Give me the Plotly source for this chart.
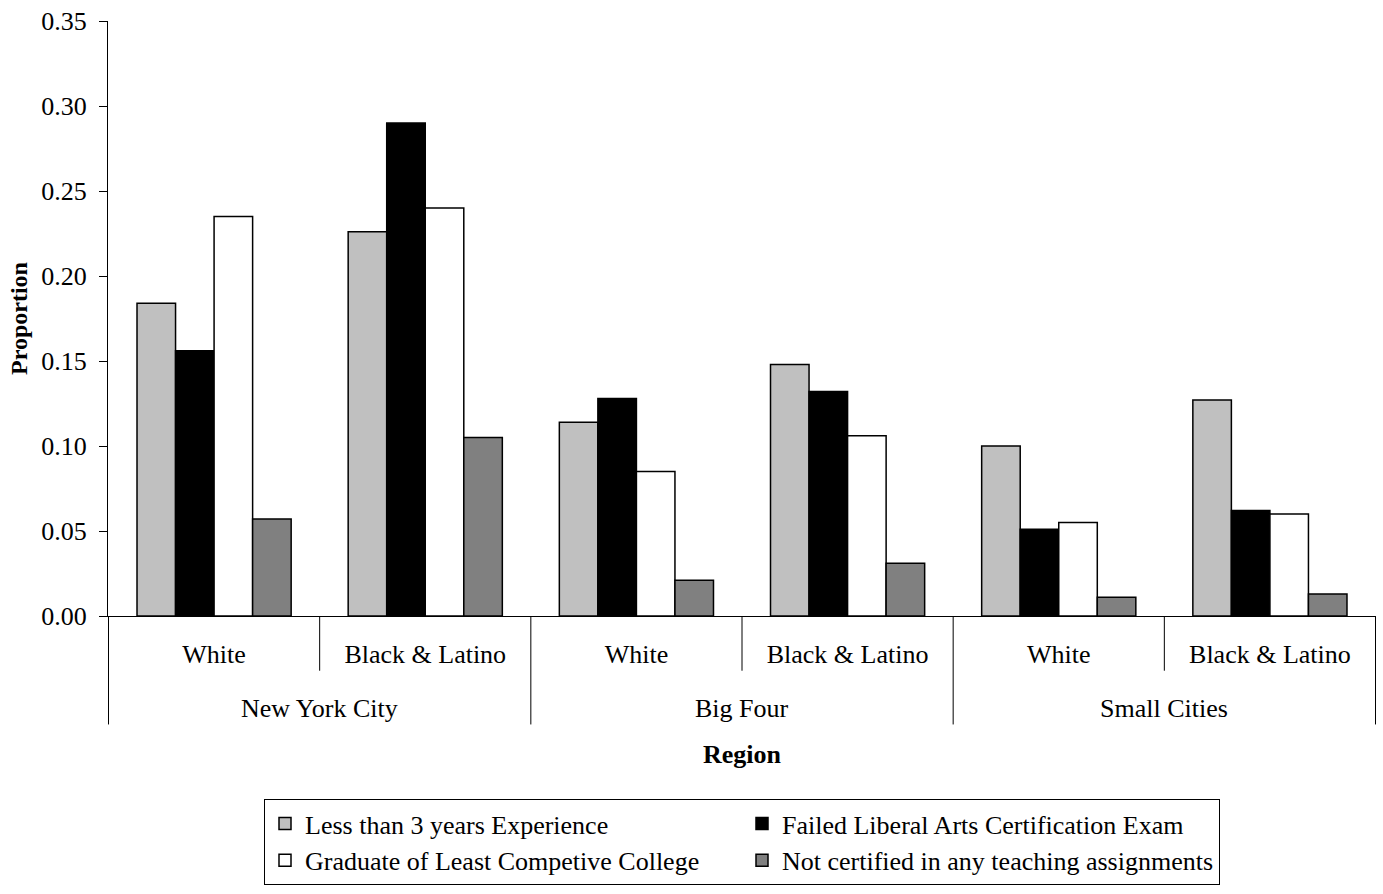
import plotly.graph_objects as go

# Region / group categories
regions = ["New York City", "Big Four", "Small Cities"]
groups = ["White", "Black & Latino"]
region_of_bar = ["New York City", "New York City", "Big Four", "Big Four", "Small Cities", "Small Cities"]
group_of_bar = ["White", "Black & Latino", "White", "Black & Latino", "White", "Black & Latino"]
keys = [f"{r} | {g}" for r, g in zip(region_of_bar, group_of_bar)]

# Proportions per indicator
less_than_3_years = [0.184, 0.226, 0.114, 0.148, 0.100, 0.127]
failed_las_exam = [0.156, 0.290, 0.128, 0.132, 0.051, 0.062]
least_competitive_college = [0.235, 0.240, 0.085, 0.106, 0.055, 0.060]
not_certified = [0.057, 0.105, 0.021, 0.031, 0.011, 0.013]

series = [
    ("Less than 3 years Experience", less_than_3_years, "#C0C0C0"),
    ("Failed Liberal Arts Certification Exam", failed_las_exam, "#000000"),
    ("Graduate of Least Competive College", least_competitive_college, "#FFFFFF"),
    ("Not certified in any teaching assignments", not_certified, "#808080"),
]

FONT = "Liberation Serif, Times New Roman, serif"
PLOT_TOP, PLOT_BOTTOM = 18, 616
PLOT_H = PLOT_BOTTOM - PLOT_TOP


def below_axis(px):
    """Paper y coordinate for a point px pixels below the x-axis line."""
    return -px / PLOT_H


fig = go.Figure()
for name, vals, color in series:
    fig.add_trace(go.Bar(
        x=keys,
        y=vals,
        name=name,
        marker=dict(color=color, line=dict(color="#000000", width=1.5)),
    ))

# Separators between groups (short) and between regions (long)
shapes = []
n = len(keys)
for i in range(n + 1):
    xpos = i - 0.5
    long_line = (i % 2 == 0)
    shapes.append(dict(
        type="line", xref="x", yref="paper",
        x0=xpos, x1=xpos, y0=0, y1=below_axis(109 if long_line else 55),
        line=dict(color="black", width=1),
    ))

# Region labels centred under each pair of groups
annotations = []
for j, reg in enumerate(regions):
    annotations.append(dict(
        x=2 * j + 0.5, xref="x", y=below_axis(93), yref="paper",
        text=reg, showarrow=False, xanchor="center", yanchor="middle",
        font=dict(family=FONT, size=26, color="black"),
    ))
annotations.append(dict(
    x=0.5, xref="paper", y=below_axis(139), yref="paper",
    text="<b>Region</b>", showarrow=False, xanchor="center", yanchor="middle",
    font=dict(family=FONT, size=26, color="black"),
))

fig.update_layout(
    width=1383,
    height=894,
    barmode="group",
    bargap=0.27,
    bargroupgap=0,
    plot_bgcolor="white",
    paper_bgcolor="white",
    font=dict(family=FONT, size=26, color="black"),
    margin=dict(l=108, r=7, t=PLOT_TOP, b=894 - PLOT_BOTTOM),
    legend=dict(
        orientation="h",
        x=(264 - 108) / 1268,
        y=below_axis(184),
        xanchor="left",
        yanchor="top",
        bordercolor="black",
        borderwidth=1,
        entrywidth=432,
        entrywidthmode="pixels",
        font=dict(family=FONT, size=26),
        traceorder="normal",
        itemwidth=30,
    ),
    showlegend=True,
    shapes=shapes,
    annotations=annotations,
)

fig.update_xaxes(
    type="category",
    tickvals=keys,
    ticktext=group_of_bar,
    showline=True,
    linecolor="black",
    linewidth=1,
    ticks="",
    ticklabelstandoff=15,
    showgrid=False,
    tickfont=dict(family=FONT, size=26),
)

fig.update_yaxes(
    range=[0, 0.35],
    dtick=0.05,
    tickformat=".2f",
    showline=True,
    linecolor="black",
    linewidth=1,
    ticks="outside",
    ticklen=8,
    tickcolor="black",
    ticklabelstandoff=7,
    showgrid=False,
    zeroline=False,
    tickfont=dict(family=FONT, size=26),
    title=dict(text="<b>Proportion</b>", font=dict(family=FONT, size=24), standoff=6),
)

fig.write_html("out.html")
